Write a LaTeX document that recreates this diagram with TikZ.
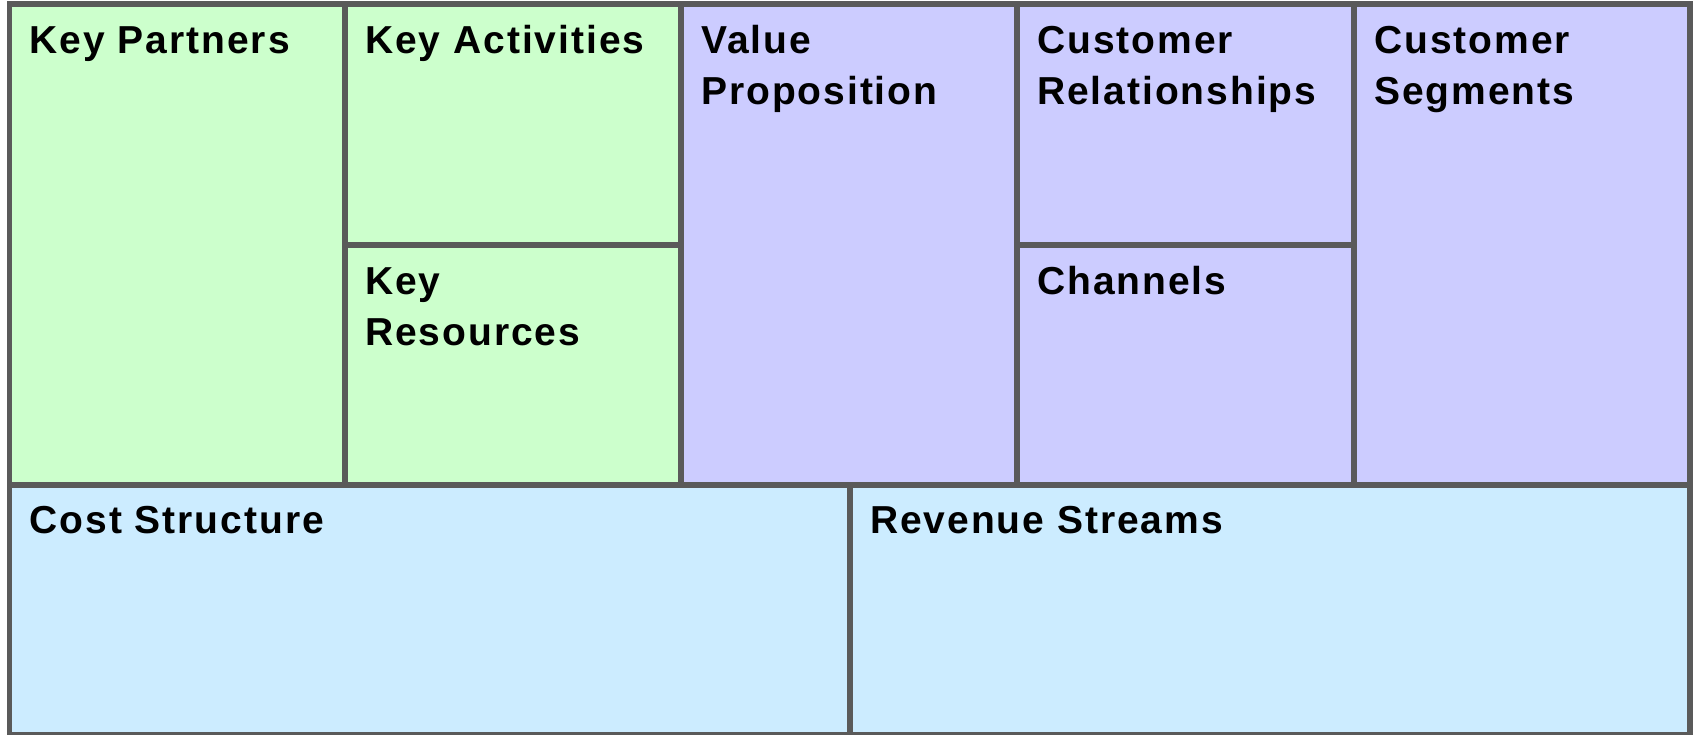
\documentclass[tikz,border=0pt]{standalone}
\usepackage{fontspec}
\newfontfamily\cellfont[LetterSpace=5.0]{Liberation Sans}
\definecolor{linegray}{HTML}{5A5A5A}
\definecolor{greencell}{HTML}{CCFFCC}
\definecolor{violetcell}{HTML}{CCCCFF}
\definecolor{skycell}{HTML}{CCECFF}
\tikzset{
  cellbox/.style={draw=linegray, line width=5.7pt, inner sep=0pt, outer sep=0pt, anchor=north west},
  celltitle/.style={anchor=base west, inner sep=0pt, align=left,
    font=\cellfont\bfseries\fontsize{39}{51.7}\selectfont},
}
\begin{document}
\begin{tikzpicture}[x=1pt,y=-1pt]
\useasboundingbox (0,0) rectangle (1696,735);
% cells
\node[cellbox, fill=greencell, minimum width=335.5pt, minimum height=480.5pt] (kp) at (9.5,4.2) {};
\node[cellbox, fill=greencell, minimum width=336pt, minimum height=240.8pt] (ka) at (345,4.2) {};
\node[cellbox, fill=greencell, minimum width=336pt, minimum height=239.7pt] (kr) at (345,245) {};
\node[cellbox, fill=violetcell, minimum width=336pt, minimum height=480.5pt] (vp) at (681,4.2) {};
\node[cellbox, fill=violetcell, minimum width=337pt, minimum height=240.8pt] (cr) at (1017,4.2) {};
\node[cellbox, fill=violetcell, minimum width=337pt, minimum height=239.7pt] (ch) at (1017,245) {};
\node[cellbox, fill=violetcell, minimum width=336pt, minimum height=480.5pt] (cs) at (1354,4.2) {};
\node[cellbox, fill=skycell, minimum width=840.5pt, minimum height=249.8pt] (cost) at (9.5,484.7) {};
\node[cellbox, fill=skycell, minimum width=840pt, minimum height=249.8pt] (rev) at (850,484.7) {};
% titles (base anchor of a two-line title is its second line)
\node[celltitle] (kpt) at ([shift={(20,49)}]kp.north west) {Key Partners};
\node[celltitle] (kat) at ([shift={(20,49)}]ka.north west) {Key Activities};
\node[celltitle] (krt) at ([shift={(20,100.7)}]kr.north west) {Key\\Resources};
\node[celltitle] (vpt) at ([shift={(20,100.7)}]vp.north west) {Value\\Proposition};
\node[celltitle] (crt) at ([shift={(20,100.7)}]cr.north west) {Customer\\Relationships};
\node[celltitle] (cht) at ([shift={(20,49)}]ch.north west) {Channels};
\node[celltitle] (cst) at ([shift={(20,100.7)}]cs.north west) {Customer\\Segments};
\node[celltitle] (costt) at ([shift={(20,49)}]cost.north west) {Cost Structure};
\node[celltitle] (revt) at ([shift={(20,49)}]rev.north west) {Revenue Streams};
\end{tikzpicture}
\end{document}
